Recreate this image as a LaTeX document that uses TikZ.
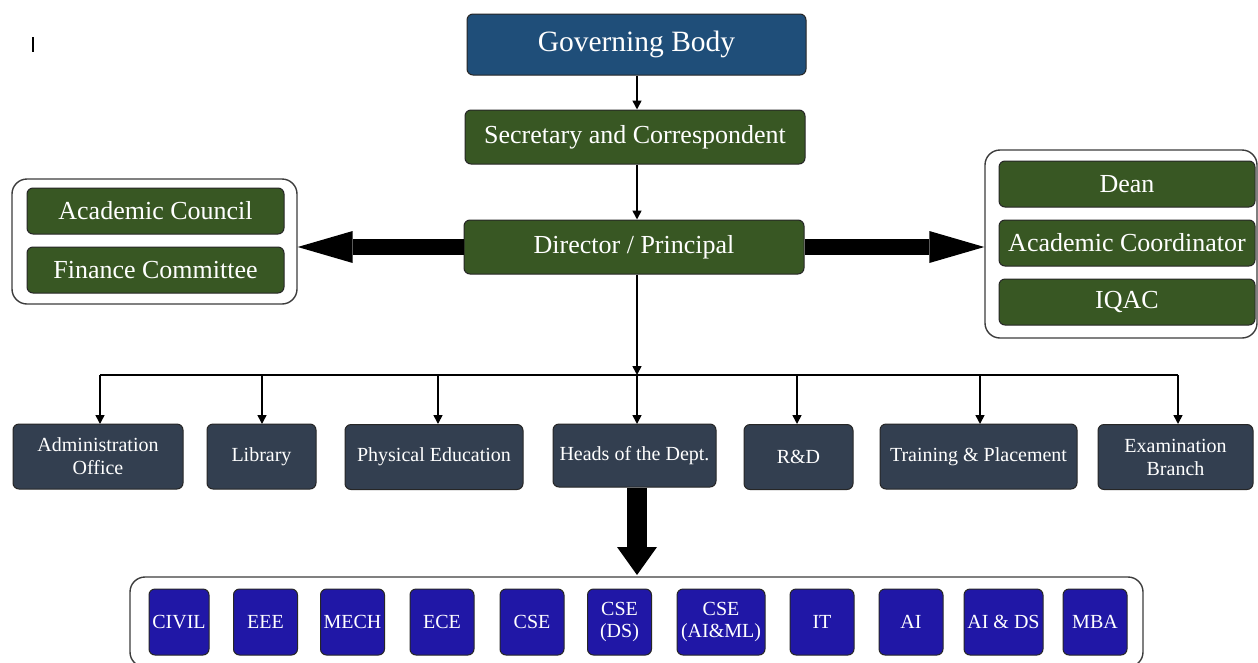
\documentclass[tikz,border=0pt]{standalone}
\usepackage{fontspec}
\setmainfont{Liberation Serif}
\usetikzlibrary{arrows.meta,positioning}
\definecolor{govblue}{RGB}{31,78,121}
\definecolor{dgreen}{RGB}{56,87,35}
\definecolor{slate}{RGB}{51,63,80}
\definecolor{deptblue}{RGB}{32,23,166}
\definecolor{bordergray}{RGB}{60,60,60}
\tikzset{
  box/.style={draw=black!85, line width=1pt, rounded corners=6pt, text=white, align=center, inner sep=0pt},
  govbox/.style={box, fill=govblue, font=\fontsize{29.5}{33}\selectfont},
  grbox/.style={box, fill=dgreen, font=\fontsize{26}{30}\selectfont, minimum height=54pt},
  subbox/.style={box, fill=dgreen, font=\fontsize{26}{30}\selectfont, minimum height=46pt},
  midbox/.style={box, fill=slate, font=\fontsize{20}{23}\selectfont, minimum height=65pt},
  deptbox/.style={box, fill=deptblue, font=\fontsize{20}{22}\selectfont, minimum height=66pt},
  grp/.style={draw=bordergray, line width=1.4pt, rounded corners=15pt, fill=white, inner sep=0pt},
  thin/.style={draw=black, line width=1.6pt, -{Triangle[width=9pt,length=9pt]}},
  bigarrow/.style={draw=black, line width=16pt, -{Triangle[width=32pt,length=55pt,line width=0pt]}},
  downarrow/.style={draw=black, line width=20pt, -{Triangle[width=40pt,length=28pt,line width=0pt]}},
}
\begin{document}
\begin{tikzpicture}[x=1pt,y=-1pt]
\useasboundingbox (0,0) rectangle (1258,662);
\fill[white] (0,0) rectangle (1258,662);
% stray cursor mark
\draw[line width=1.4pt] (33,37) -- (33,52);

% top chain
\node[govbox, minimum width=339pt, minimum height=61pt] (gov) at (636.5,44.5) {Governing Body};
\node[grbox, minimum width=340pt] (sec) at (635,137) {Secretary and Correspondent};
\node[grbox, minimum width=340pt] (dir) at (634,247) {Director / Principal};

% left group
\node[grp, minimum width=285pt, minimum height=125pt] (leftgrp) at (154.5,241.5) {};
\node[subbox, minimum width=257pt] (acad) at (155.5,211) {Academic Council};
\node[subbox, minimum width=257pt] (fin) at (155.5,270) {Finance Committee};

% right group
\node[grp, minimum width=272pt, minimum height=188pt] (rightgrp) at (1121,244) {};
\node[subbox, minimum width=256pt] (dean) at (1127,184) {Dean};
\node[subbox, minimum width=256pt] (acoord) at (1127,243) {Academic Coordinator};
\node[subbox, minimum width=256pt] (iqac) at (1127,302) {IQAC};

% connectors top
\draw[thin] (gov.south -| 637,0) -- (sec.north -| 637,0);
\draw[thin] (sec.south -| 637,0) -- (dir.north -| 637,0);
\draw[bigarrow] (dir.west) -- (dir.west -| leftgrp.east);
\draw[bigarrow] (dir.east) -- (dir.east -| rightgrp.west);

% middle row
\node[midbox, minimum width=170pt] (admin) at (98,456.5) {Administration\\Office};
\node[midbox, minimum width=109pt] (lib) at (261.5,456.5) {Library};
\node[midbox, minimum width=178pt] (phys) at (434,457) {Physical Education};
\node[midbox, minimum width=163pt, minimum height=63pt] (heads) at (634.5,455.5) {Heads of the Dept.};
\node[midbox, minimum width=109pt] (rd) at (798.5,457) {R\&D};
\node[midbox, minimum width=197pt] (tp) at (978.5,456.5) {Training \& Placement};
\node[midbox, minimum width=155pt] (exam) at (1175.5,457) {Examination\\Branch};

% bus
\coordinate (bus) at (637,375);
\draw[thin] (dir.south -| bus) -- (bus);
\draw[line width=1.6pt] (100,375) -- (1178,375);
\draw[thin] (100,375) -- (100,424);
\draw[thin] (262,375) -- (262,424);
\draw[thin] (438,375) -- (438,424);
\draw[thin] (bus) -- (637,424);
\draw[thin] (797,375) -- (797,424);
\draw[thin] (980,375) -- (980,424);
\draw[thin] (1178,375) -- (1178,424);

% dept group
\node[grp, minimum width=1013pt, minimum height=90pt] (deptgrp) at (636.5,622) {};
\coordinate (dtip) at (637,575);
\draw[downarrow] (heads.south -| dtip) -- (dtip);

\node[deptbox, minimum width=60pt] (civil) at (179,622) {CIVIL};
\node[deptbox, minimum width=64pt] (eee) at (265.5,622) {EEE};
\node[deptbox, minimum width=64pt] (mech) at (352.5,622) {MECH};
\node[deptbox, minimum width=64pt] (ece) at (442,622) {ECE};
\node[deptbox, minimum width=64pt] (cse) at (532,622) {CSE};
\node[deptbox, minimum width=64pt] (cseds) at (619.5,622) {CSE\\(DS)};
\node[deptbox, minimum width=88pt] (cseai) at (721,622) {CSE\\(AI\&ML)};
\node[deptbox, minimum width=64pt] (it) at (822,622) {IT};
\node[deptbox, minimum width=64pt] (ai) at (911,622) {AI};
\node[deptbox, minimum width=79pt] (aids) at (1003.5,622) {AI \& DS};
\node[deptbox, minimum width=64pt] (mba) at (1095,622) {MBA};
\end{tikzpicture}
\end{document}
